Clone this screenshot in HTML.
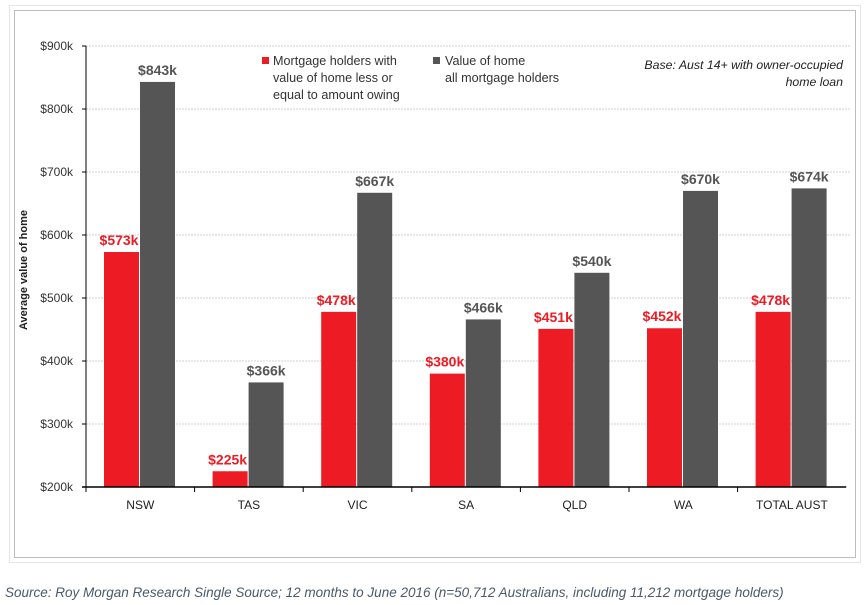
<!DOCTYPE html>
<html><head><meta charset="utf-8"><style>
html,body{margin:0;padding:0;background:#fff;width:864px;height:605px;overflow:hidden;font-family:"Liberation Sans",sans-serif}
</style></head><body>
<svg width="864" height="605" xmlns="http://www.w3.org/2000/svg" id="chart">
<rect x="9.5" y="5.5" width="851" height="557" fill="#fff" stroke="#e6e6e6"/>
<rect x="14.5" y="10.5" width="841" height="547" fill="#fff" stroke="#bdbdbd"/>
<g id="grid"></g>
<g id="bars"></g>
<g id="axes"></g>
<text x="27" y="270" transform="rotate(-90 27 270)" text-anchor="middle" font-size="11" font-weight="bold" fill="#222">Average value of home</text>
<g font-size="12.6" fill="#333">
<rect x="262" y="57" width="7" height="7" fill="#ed1c24"/>
<text x="273" y="65"><tspan x="273">Mortgage holders with</tspan><tspan x="273" dy="17">value of home less or</tspan><tspan x="273" dy="17">equal to amount owing</tspan></text>
<rect x="433" y="57" width="7" height="7" fill="#555"/>
<text x="445" y="65"><tspan x="445">Value of home</tspan><tspan x="445" dy="17">all mortgage holders</tspan></text>
</g>
<text x="843" y="69" text-anchor="end" font-size="12.3" font-style="italic" fill="#222"><tspan x="843">Base: Aust 14+ with owner-occupied</tspan><tspan x="843" dy="17">home loan</tspan></text>
<text x="5" y="597" font-size="13.5" font-style="italic" fill="#4a5a6a">Source: Roy Morgan Research Single Source; 12 months to June 2016 (n=50,712 Australians, including 11,212 mortgage holders)</text>
</svg>
<script>
const categories=["NSW","TAS","VIC","SA","QLD","WA","TOTAL AUST"];
const negEquity=[573,225,478,380,451,452,478];
const allHolders=[843,366,667,466,540,670,674];
const yTicks=[200,300,400,500,600,700,800,900];
const NS="http://www.w3.org/2000/svg";
const x0=86,bandW=108.6,yTop=46,yBot=487,vMin=200,vMax=900;
function y(v){return yBot-(v-vMin)/(vMax-vMin)*(yBot-yTop);}
function bx(i){return x0+i*bandW;}
function mk(tag,attrs,parent,txt){const e=document.createElementNS(NS,tag);for(const k in attrs)e.setAttribute(k,attrs[k]);if(txt!==undefined)e.textContent=txt;parent.appendChild(e);return e;}
const grid=document.getElementById('grid'),bars=document.getElementById('bars'),axes=document.getElementById('axes');
yTicks.forEach(t=>{
 if(t>vMin){const g=mk('line',{x1:x0,x2:850,y1:y(t),y2:y(t),stroke:'#d0d0d0','stroke-dasharray':'2,1'},grid);
 
 }
 const tk=mk('line',{x1:x0-4,x2:x0,y1:y(t),y2:y(t),stroke:'#000'},axes);
 
 
 const l=mk('text',{x:x0-13,y:y(t)+4,'text-anchor':'end','font-size':'12',fill:'#333'},axes,'$'+t+'k');
 
 
});
categories.forEach((c,i)=>{
 const b=bx(i);
 const r=mk('rect',{x:b+18,y:y(negEquity[i]),width:35,height:yBot-y(negEquity[i]),fill:'#ed1c24'},bars);
 
 
 const g=mk('rect',{x:b+54,y:y(allHolders[i]),width:35,height:yBot-y(allHolders[i]),fill:'#555'},bars);
 
 
 const lr=mk('text',{x:b+33,y:y(negEquity[i])-7,'text-anchor':'middle','font-size':'14','font-weight':'bold',fill:'#ed1c24'},bars,'$'+negEquity[i]+'k');
 
 
 const lg=mk('text',{x:b+71.5,y:y(allHolders[i])-7,'text-anchor':'middle','font-size':'14','font-weight':'bold',fill:'#555'},bars,'$'+allHolders[i]+'k');
 
 
 const cl=mk('text',{x:b+bandW/2,y:509,'text-anchor':'middle','font-size':'12',fill:'#222'},axes,c);
 
 
 if(i>0){const xt=mk('line',{x1:b,x2:b,y1:yBot,y2:yBot+5,stroke:'#000'},axes);
 
 }
});
const ya=mk('line',{x1:x0,x2:x0,y1:yTop,y2:yBot+5,stroke:'#000'},axes);


const xa=mk('line',{x1:x0-4,x2:bx(7),y1:yBot,y2:yBot,stroke:'#000','stroke-width':'1.5'},axes);


</script>
</body></html>
